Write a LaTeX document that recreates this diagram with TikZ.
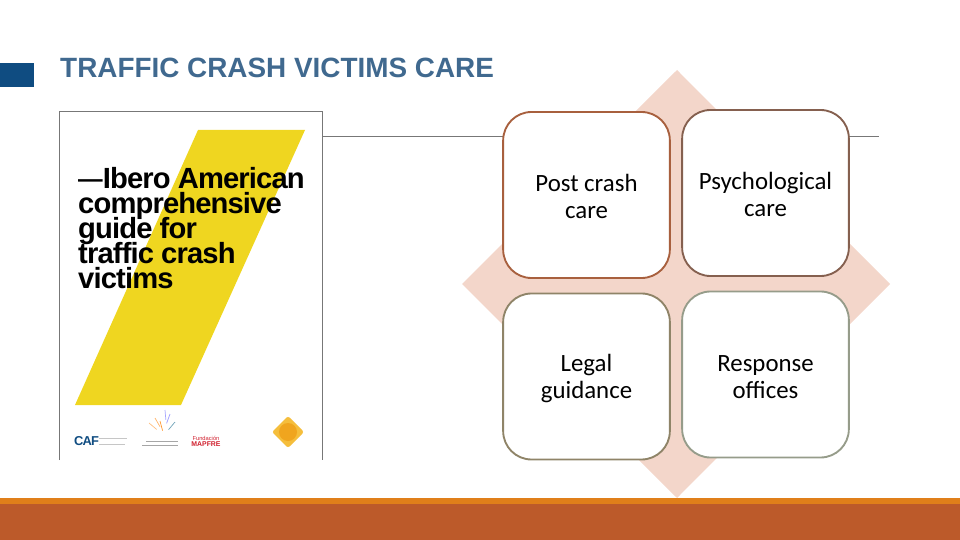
\documentclass[tikz,border=0pt]{standalone}
\usepackage{fontspec}
\setmainfont{Carlito}
\newfontfamily\arialfont{Liberation Sans}
\definecolor{titleblue}{HTML}{40698F}
\definecolor{tabblue}{HTML}{0F4C81}
\definecolor{petal}{HTML}{F3D6CA}
\definecolor{barorange}{HTML}{E07F1A}
\definecolor{barbrown}{HTML}{BC5A2A}
\definecolor{bookyellow}{HTML}{EFD620}
\definecolor{framegray}{HTML}{777777}
\definecolor{postedge}{HTML}{A8603E}
\definecolor{psychedge}{HTML}{85604F}
\definecolor{legaledge}{HTML}{8F8468}
\definecolor{responseedge}{HTML}{969C8A}
\definecolor{mapfrered}{HTML}{D0202E}
\definecolor{sealgold}{HTML}{F5BE3C}
\definecolor{sealcore}{HTML}{F0A51E}
\newcommand{\cardstrut}{\rule{0pt}{17.6pt}}
\newcommand{\tightbook}{\addfontfeature{LetterSpace=-3}}
\begin{document}
\begin{tikzpicture}[
        x=0.03cm, y=-0.03cm,
        card/.style={rectangle, rounded corners=0.85cm, fill=white, line width=1.6pt, minimum width=5cm, minimum height=4.98cm, align=center, font=\fontsize{21.2}{23.2}\selectfont, text=black},
        smallrule/.style={gray!45, line width=0.7pt},
        logotext/.style={inner sep=0pt, font=\arialfont\bfseries}
    ]
        \useasboundingbox (0, 0) rectangle (960, 540);
        % Slide furniture
        \fill[tabblue] (0, 63) rectangle (34, 87);
        \fill[barorange] (0, 498) rectangle (960, 504);
        \fill[barbrown] (0, 504) rectangle (960, 540);
        \node[anchor=base west, inner sep=0pt, text=titleblue, font=\arialfont\bfseries\fontsize{23.8}{25}\selectfont] (title) at (60, 78) {TRAFFIC CRASH VICTIMS CARE};
        \draw[framegray, line width=0.7pt] (322, 136) -- (879, 136);

        % Book cover
        \draw[framegray, line width=0.8pt] (59, 460) -- (59, 111) -- (322, 111) -- (322, 460);
        \fill[bookyellow] (198, 130) -- (305, 130) -- (181, 405) -- (75, 405) -- cycle;
        \node[anchor=north west, inner sep=0pt, align=left, text=black, font=\arialfont\bfseries\fontsize{24.9}{21.3}\selectfont\lineskiplimit -20pt\relax] (booktitle) at (78, 167) {\tightbook{\fontsize{21}{21.3}\selectfont\raisebox{1pt}{—}}Ibero American\\\tightbook comprehensive\\\tightbook guide for\\\tightbook traffic crash\\\tightbook victims};

        % Logos
        \node[logotext, text=tabblue, font=\arialfont\bfseries\fontsize{11}{11}\selectfont] (caf) at (86.5, 441) {\addfontfeature{LetterSpace=-6}CAF};
        \draw[smallrule] (99, 438) -- (127, 438);
        \draw[smallrule] (99, 444) -- (125, 444);
        \foreach \x/\y/\a/\c in {149/423/40/orange!50, 155/418/60/orange!60, 160/421/75/orange!80, 165/410/85/blue!35, 170/414/110/blue!40, 175/422/130/cyan!40!gray}
            \draw[\c, line width=0.6pt] (\x, \y) -- ++(\a:10);
        \draw[gray!70, line width=0.8pt] (146, 441) -- (178, 441);
        \draw[gray!70, line width=0.8pt] (142, 445) -- (178, 445);
        \node[logotext, text=mapfrered, font=\arialfont\fontsize{4.9}{5}\selectfont] (fundacion) at (206, 438) {Fundación};
        \node[logotext, text=mapfrered, font=\arialfont\bfseries\fontsize{5.9}{6}\selectfont] (mapfre) at (206, 444.5) {MAPFRE};
        \fill[sealgold, rounded corners=2pt] (288, 416) -- (304, 432) -- (288, 448) -- (272, 432) -- cycle;
        \fill[sealcore] (288, 432) circle (9);

        % Diamond behind the cards
        \fill[petal] (677, 70) -- (890, 284) -- (677, 498) -- (462, 284) -- cycle;

        % Cards
        \node[card, draw=postedge] (post) at (586.5, 195) {\cardstrut Post crash\\care};
        \node[card, draw=psychedge] (psych) at (765.5, 193) {\cardstrut Psychological\\care};
        \node[card, draw=legaledge] (legal) at (586.5, 376.5) {\cardstrut Legal\\guidance};
        \node[card, draw=responseedge] (response) at (765.5, 374.5) {\cardstrut Response\\offices};
    \end{tikzpicture}
\end{document}
